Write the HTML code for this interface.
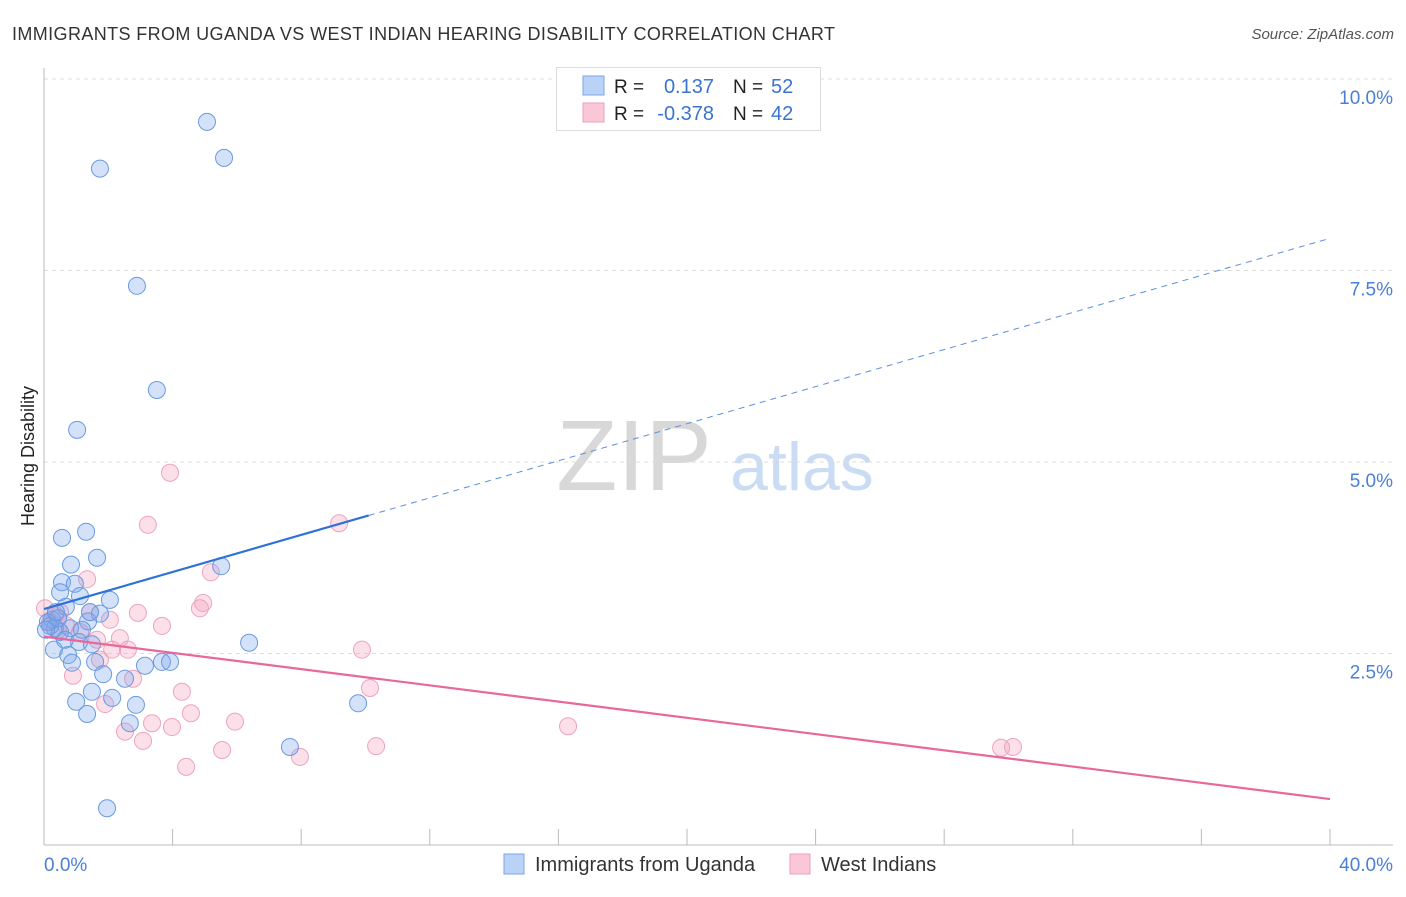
<!DOCTYPE html>
<html><head><meta charset="utf-8"><style>
body{margin:0;background:#fff;font-family:"Liberation Sans",sans-serif;}
svg text{font-family:"Liberation Sans",sans-serif;}
</style></head><body>
<svg id="chart" width="1406" height="892" xmlns="http://www.w3.org/2000/svg">
<text x="12" y="40" font-size="18" fill="#333" textLength="823" lengthAdjust="spacing">IMMIGRANTS FROM UGANDA VS WEST INDIAN HEARING DISABILITY CORRELATION CHART</text>
<text x="1394" y="39" font-size="15" fill="#555" font-style="italic" text-anchor="end">Source: ZipAtlas.com</text>
<text x="634" y="490" font-size="100" fill="#d8d8d8" font-family="Liberation Serif, serif" text-anchor="middle">ZIP</text>
<text x="802" y="490" font-size="68" fill="#c9dcf3" text-anchor="middle">atlas</text>
<g id="grid"></g>
<g id="axes"></g>
<g id="marks"></g>
<text transform="translate(34,456) rotate(-90)" font-size="18" fill="#222" text-anchor="middle">Hearing Disability</text>
<g>
<rect x="556.5" y="67.5" width="264" height="63" fill="#fff" stroke="#ddd"/>
<rect x="583" y="76" width="21" height="19" fill="#b9d2f5" stroke="#7aa6e6"/>
<rect x="583" y="103" width="21" height="19" fill="#f9c7d6" stroke="#ee9fba"/>
<text x="614" y="93" font-size="19" fill="#222">R =</text>
<text x="714" y="93" font-size="20" fill="#3a74d0" text-anchor="end">0.137</text>
<text x="733" y="93" font-size="19" fill="#222">N =</text>
<text x="771" y="93" font-size="20" fill="#3a74d0">52</text>
<text x="614" y="120" font-size="19" fill="#222">R =</text>
<text x="714" y="120" font-size="20" fill="#3a74d0" text-anchor="end">-0.378</text>
<text x="733" y="120" font-size="19" fill="#222">N =</text>
<text x="771" y="120" font-size="20" fill="#3a74d0">42</text>
</g>
<g>
<rect x="504" y="854" width="20" height="20" fill="#b9d2f5" stroke="#7aa6e6"/>
<text x="535" y="871" font-size="20" fill="#333">Immigrants from Uganda</text>
<rect x="790" y="854" width="20" height="20" fill="#f9c7d6" stroke="#ee9fba"/>
<text x="821" y="871" font-size="20" fill="#333">West Indians</text>
</g>
</svg>
<script>
const yTicks=[2.5,5.0,7.5,10.0];
const yTickLabels=["2.5%","5.0%","7.5%","10.0%"];
const xTicks=[0,4,8,12,16,20,24,28,32,36,40];
const xEndLabels=["0.0%","40.0%"];
const ugandaX=[5.07,5.60,1.74,2.89,3.51,1.03,0.56,1.31,1.65,0.84,5.51,0.56,0.96,0.50,1.12,0.68,1.74,1.37,0.25,0.34,0.81,0.50,1.18,1.09,1.49,6.38,0.31,0.75,1.59,0.87,3.14,3.67,3.92,1.84,2.52,1.49,2.12,1.00,2.86,9.77,1.34,2.67,7.65,1.96,0.12,0.19,0.44,0.06,1.43,0.65,2.05,0.37];
const ugandaY=[9.44,8.97,8.83,7.30,5.94,5.42,4.01,4.09,3.75,3.66,3.64,3.43,3.41,3.30,3.25,3.11,3.02,2.92,2.94,2.83,2.83,2.78,2.81,2.65,2.62,2.64,2.55,2.48,2.39,2.38,2.34,2.39,2.39,2.23,2.17,2.00,1.92,1.87,1.83,1.85,1.71,1.59,1.28,0.48,2.91,2.86,2.96,2.81,3.04,2.68,3.20,3.04];
const westX=[3.92,3.23,9.18,1.34,5.19,4.95,4.85,2.92,1.43,3.67,2.36,1.65,0.34,0.50,0.19,0.68,1.12,1.74,2.12,2.61,0.90,2.77,4.29,9.89,10.14,1.90,2.52,4.57,5.94,3.36,3.98,3.08,5.54,4.42,7.96,10.33,16.30,29.77,30.14,0.44,0.03,2.05];
const westY=[4.86,4.18,4.20,3.47,3.56,3.16,3.09,3.03,3.04,2.86,2.70,2.68,3.00,3.04,2.91,2.87,2.78,2.42,2.55,2.55,2.21,2.17,2.00,2.55,2.05,1.84,1.48,1.72,1.61,1.59,1.54,1.36,1.24,1.02,1.15,1.29,1.55,1.27,1.28,2.81,3.09,2.94];
const ugandaTrend=[3.08,0.121];
const ugandaSolidEnd=10.1;
const westTrend=[2.72,-0.053];
const NS="http://www.w3.org/2000/svg";
const X0=44,X1=1330,Y0=845,YPX=76.6;
const sx=v=>X0+(X1-X0)*v/40;
const sy=v=>Y0-v*YPX;
function mk(tag,attrs,parent){const e=document.createElementNS(NS,tag);for(const k in attrs)e.setAttribute(k,attrs[k]);parent.appendChild(e);return e;}
const grid=document.getElementById('grid'),axes=document.getElementById('axes'),marks=document.getElementById('marks');
yTicks.forEach((t,i)=>{
  const l=mk('line',{x1:X0,x2:1393,y1:sy(t),y2:sy(t),stroke:'#ddd','stroke-dasharray':'4,4'},grid);
  
  
  const tx=mk('text',{x:1393,y:sy(t)+25,'font-size':19,fill:'#4a7fd4','text-anchor':'end'},axes);
  tx.textContent=yTickLabels[i];
  
  
});
const ax=mk('line',{x1:X0,x2:X0,y1:68,y2:Y0,stroke:'#bbb'},axes);


const bx=mk('line',{x1:X0,x2:1393,y1:Y0,y2:Y0,stroke:'#bbb'},axes);


xTicks.forEach(t=>{
  const l=mk('line',{x1:sx(t),x2:sx(t),y1:829,y2:Y0,stroke:'#bbb'},axes);
  
  
});
const xl0=mk('text',{x:X0,y:871,'font-size':19,fill:'#4a7fd4'},axes);xl0.textContent=xEndLabels[0];


const xl1=mk('text',{x:1393,y:871,'font-size':19,fill:'#4a7fd4','text-anchor':'end'},axes);xl1.textContent=xEndLabels[1];


function dots(xs,ys,fill,stroke,name){xs.forEach((x,i)=>{
  const c=mk('circle',{cx:sx(x),cy:sy(ys[i]),r:8.5,fill:fill,stroke:stroke,'stroke-width':1},marks);
  
  
});}
dots(westX,westY,'rgba(244,160,188,0.32)','#eea3bd','west-indians-point');
dots(ugandaX,ugandaY,'rgba(120,165,235,0.32)','#6b9ae0','uganda-point');
const maxU=ugandaSolidEnd;
const t1=mk('line',{x1:sx(0),y1:sy(ugandaTrend[0]),x2:sx(maxU),y2:sy(ugandaTrend[0]+ugandaTrend[1]*maxU),stroke:'#2f72d6','stroke-width':2.2},marks);


const t2=mk('line',{x1:sx(maxU),y1:sy(ugandaTrend[0]+ugandaTrend[1]*maxU),x2:sx(40),y2:sy(ugandaTrend[0]+ugandaTrend[1]*40),stroke:'#5b8fdc','stroke-width':1,'stroke-dasharray':'6,5'},marks);


const t3=mk('line',{x1:sx(0),y1:sy(westTrend[0]),x2:sx(40),y2:sy(westTrend[0]+westTrend[1]*40),stroke:'#e8689a','stroke-width':2.2},marks);


</script>
</body></html>
